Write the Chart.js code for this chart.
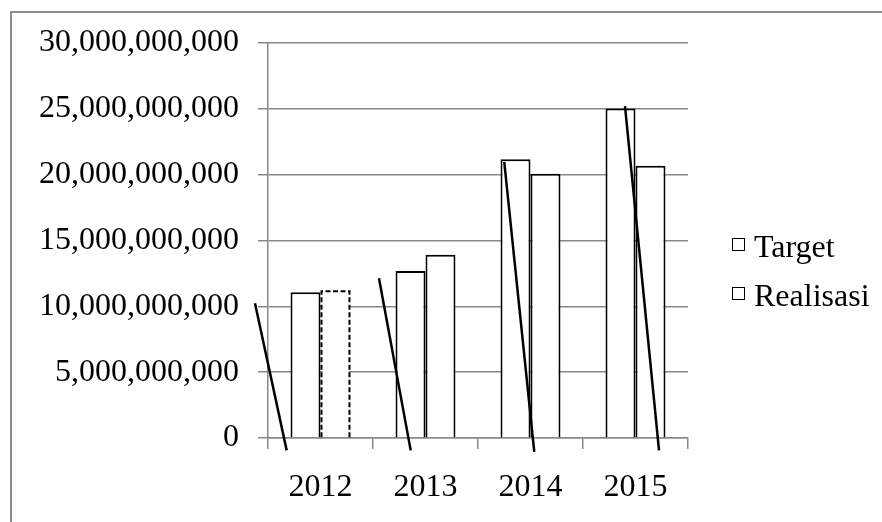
<!DOCTYPE html>
<html>
<head>
<meta charset="utf-8">
<script src="https://cdn.jsdelivr.net/npm/chart.js@4.4.1/dist/chart.umd.min.js"></script>
<style>
  html, body { margin: 0; padding: 0; background: #fff; overflow: hidden; }
  #frame { position: absolute; left: 10px; top: 11px; width: 900px; height: 600px;
           border: 2px solid #8c8c8c; box-sizing: border-box; }
  #wrap { position: absolute; left: 0; top: 0; width: 882px; height: 522px; }
  #legend { position: absolute; left: 732px; top: 222px; margin: 0; padding: 0; list-style: none;
            font-family: 'Liberation Serif', 'Times New Roman', serif; font-size: 32px; color: #000; }
  #legend li { display: flex; align-items: center; height: 49px; }
  #legend .box { width: 13px; height: 13px; box-sizing: border-box; border: 1.5px solid #000;
                 background: #fff; margin-right: 9px; margin-top: -4px; }
  #legend span { line-height: 49px; white-space: nowrap; }
</style>
</head>
<body>
<div id="frame"></div>
<div id="wrap"><canvas id="chart"></canvas></div>
<ul id="legend"></ul>
<script>
const years = ["2012", "2013", "2014", "2015"];
const target = [11.07e9, 12.69e9, 21.18e9, 25.02e9];
const realisasi = [11.22e9, 13.92e9, 20.07e9, 20.67e9];
const yMax = 30e9;
const yStep = 5e9;

// pen strokes on the scanned page: x in category units (0..4), y in values
const strokeStart = [[-0.124, 10.24e9], [1.057, 12.13e9], [2.25, 20.98e9], [3.4, 25.2e9]];
const strokeEnd = [[0.178, -0.94e9], [1.359, -0.94e9], [2.536, -1.06e9], [3.724, -0.94e9]];

Chart.defaults.font.family = "'Liberation Serif', 'Times New Roman', serif";
Chart.defaults.color = "#000";

// 2012 realisasi bar has a dashed outline, then the pen strokes go on top
const overlay = {
  id: "overlay",
  afterDatasetsDraw(chart) {
    const ctx = chart.ctx;
    const bar = chart.getDatasetMeta(1).data[0];
    const { x, y, base, width } = bar.getProps(["x", "y", "base", "width"], true);
    const l = x - width / 2 + 1, r = x + width / 2 - 1, t = y + 1;
    ctx.save();
    ctx.strokeStyle = "#000";
    ctx.lineWidth = 2;
    ctx.setLineDash([5, 2.5]);
    ctx.beginPath();
    ctx.moveTo(l, base);
    ctx.lineTo(l, t);
    ctx.lineTo(r, t);
    ctx.lineTo(r, base);
    ctx.stroke();

    const xs = chart.scales.xs, ys = chart.scales.y;
    ctx.setLineDash([]);
    ctx.lineWidth = 2.5;
    strokeStart.forEach((p, i) => {
      const q = strokeEnd[i];
      ctx.beginPath();
      ctx.moveTo(xs.getPixelForValue(p[0]), ys.getPixelForValue(p[1]));
      ctx.lineTo(xs.getPixelForValue(q[0]), ys.getPixelForValue(q[1]));
      ctx.stroke();
    });
    ctx.restore();
  },
};

const htmlLegend = {
  id: "htmlLegend",
  afterUpdate(chart) {
    const ul = document.getElementById("legend");
    ul.innerHTML = "";
    chart.data.datasets.forEach((ds) => {
      const li = document.createElement("li");
      const box = document.createElement("div");
      box.className = "box";
      const span = document.createElement("span");
      span.textContent = ds.label;
      li.appendChild(box);
      li.appendChild(span);
      ul.appendChild(li);
    });
  },
};

new Chart(document.getElementById("chart"), {
  type: "bar",
  data: {
    labels: years,
    datasets: [
      {
        label: "Target",
        data: target,
        backgroundColor: "#fff",
        borderColor: "#000",
        borderWidth: 2,
      },
      {
        label: "Realisasi",
        data: realisasi,
        backgroundColor: "#fff",
        borderColor: (c) => (c.dataIndex === 0 ? "rgba(0,0,0,0)" : "#000"),
        borderWidth: 2,
      },
    ],
  },
  options: {
    responsive: true,
    maintainAspectRatio: false,
    animation: false,
    datasets: { bar: { barPercentage: 1, categoryPercentage: 0.571 } },
    layout: { padding: { top: 43, left: 0, right: 194, bottom: 0 } },
    plugins: {
      tooltip: { enabled: false },
      legend: { display: false },
    },
    scales: {
      x: {
        grid: { drawOnChartArea: false, color: "#888", lineWidth: 1.5, tickLength: 11 },
        border: { color: "#888", width: 1.5 },
        ticks: { font: { size: 32 }, padding: 19 },
        afterFit: (s) => { s.height = 84; },
      },
      xs: { type: "linear", min: 0, max: 4, offset: false, display: false },
      y: {
        min: 0,
        max: yMax,
        grid: { color: "#888", lineWidth: 1.5, tickLength: 10 },
        border: { color: "#888", width: 1.5 },
        ticks: {
          stepSize: yStep,
          font: { size: 32 },
          padding: 19,
          callback: (v) => v.toLocaleString("en-US"),
        },
        afterFit: (s) => { s.width = 268; },
      },
    },
  },
  plugins: [overlay, htmlLegend],
});
</script>
</body>
</html>
